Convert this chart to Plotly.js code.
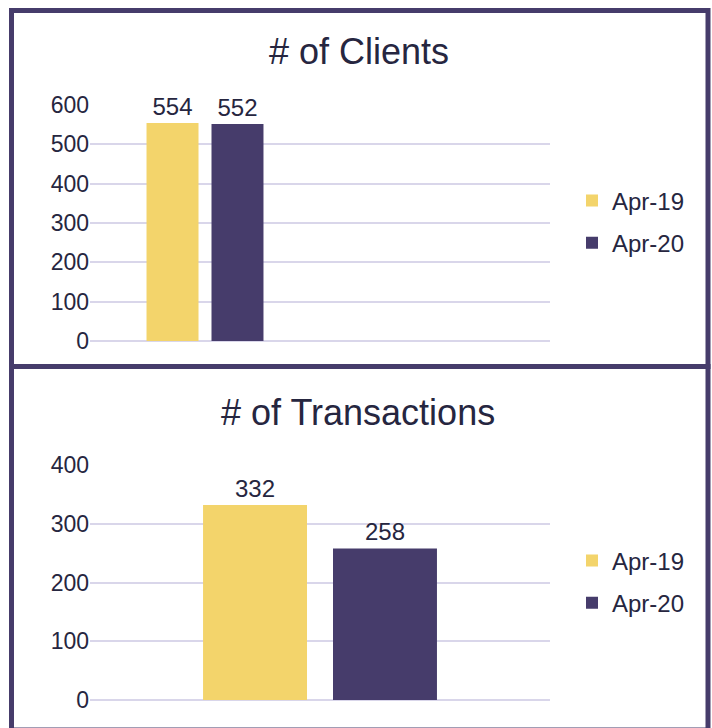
<!DOCTYPE html>
<html>
<head>
<meta charset="utf-8">
<script src="https://cdn.plot.ly/plotly-3.0.1.min.js"></script>
<style>
html,body{margin:0;padding:0;background:#fff;}
#chart{width:712px;height:728px;}
</style>
</head>
<body>
<div id="chart"></div>
<script>
// Data
const seriesNames = ["Apr-19", "Apr-20"];
const clientsCategory = ["Clients"];
const clientsValues = [554, 552];
const transCategory = ["Transactions"];
const transValues = [332, 258];
const clientsTicks = [0, 100, 200, 300, 400, 500, 600];
const transTicks = [0, 100, 200, 300, 400];
const titles = ["# of Clients", "# of Transactions"];

const colors = ["#F3D46B", "#463C6B"];
const textColor = "#262640";
const font = "Liberation Sans, Arial, sans-serif";
const W = 712, H = 728;
const px = x => x / W;
const py = y => 1 - y / H;

const traces = [];
seriesNames.forEach((name, i) => {
  traces.push({
    type: "bar", name: name, x: clientsCategory, y: [clientsValues[i]],
    xaxis: "x", yaxis: "y", marker: {color: colors[i]},
    text: [String(clientsValues[i])], textposition: "outside", cliponaxis: false,
    textfont: {size: 24, color: textColor, family: font},
    legend: "legend", legendgroup: "c" + i, hoverinfo: "skip"
  });
});
seriesNames.forEach((name, i) => {
  traces.push({
    type: "bar", name: name, x: transCategory, y: [transValues[i]],
    xaxis: "x2", yaxis: "y2", marker: {color: colors[i]},
    text: [String(transValues[i])], textposition: "outside", cliponaxis: false,
    textfont: {size: 24, color: textColor, family: font},
    legend: "legend2", legendgroup: "t" + i, hoverinfo: "skip"
  });
});

const yCommon = {
  showgrid: true, gridcolor: "#D9D6EA", gridwidth: 2,
  zeroline: true, zerolinecolor: "#D9D6EA", zerolinewidth: 2,
  showline: false, ticks: "", tickfont: {size: 23, color: textColor, family: font},
  ticklabelstandoff: 0, fixedrange: true
};
const xCommon = {showticklabels: false, showgrid: false, zeroline: false, showline: false, ticks: "", type: "category", fixedrange: true};

const legendCommon = {
  font: {size: 24, color: textColor, family: font},
  bgcolor: "rgba(0,0,0,0)", tracegroupgap: 8, itemwidth: 30,
  xanchor: "left", yanchor: "middle", traceorder: "grouped"
};

const borderColor = "#463C6B";
const layout = {
  width: W, height: H,
  margin: {l: 0, r: 0, t: 0, b: 0},
  paper_bgcolor: "#fff", plot_bgcolor: "#fff",
  showlegend: true,
  bargap: 0.435, bargroupgap: 0.2, barmode: "group",
  xaxis: Object.assign({}, xCommon, {domain: [px(90), px(550)], anchor: "y", range: [-0.5, 1.5]}),
  yaxis: Object.assign({}, yCommon, {domain: [py(341), py(105)], anchor: "x", range: [0, 600], tickvals: clientsTicks}),
  xaxis2: Object.assign({}, xCommon, {domain: [px(90), px(550)], anchor: "y2", range: [-0.5, 0.5]}),
  yaxis2: Object.assign({}, yCommon, {domain: [py(700), py(465)], anchor: "x2", range: [0, 400], tickvals: transTicks}),
  legend: Object.assign({}, legendCommon, {x: px(572), y: py(222)}),
  legend2: Object.assign({}, legendCommon, {x: px(572), y: py(582)}),
  annotations: [
    {text: titles[0], xref: "paper", yref: "paper", x: px(359), y: py(52), xanchor: "center", yanchor: "middle", showarrow: false, font: {size: 36, color: textColor, family: font}},
    {text: titles[1], xref: "paper", yref: "paper", x: px(358), y: py(412), xanchor: "center", yanchor: "middle", showarrow: false, font: {size: 36, color: textColor, family: font}}
  ],
  shapes: [
    {type: "rect", xref: "paper", yref: "paper", x0: px(11.5), x1: px(708), y0: py(10.5), y1: py(366.5), line: {color: borderColor, width: 5}, layer: "above"},
    {type: "rect", xref: "paper", yref: "paper", x0: px(11.5), x1: px(708), y0: py(366.5), y1: py(730), line: {color: borderColor, width: 5}, layer: "above"}
  ]
};

Plotly.newPlot("chart", traces, layout, {displayModeBar: false, staticPlot: true});
</script>
</body>
</html>
